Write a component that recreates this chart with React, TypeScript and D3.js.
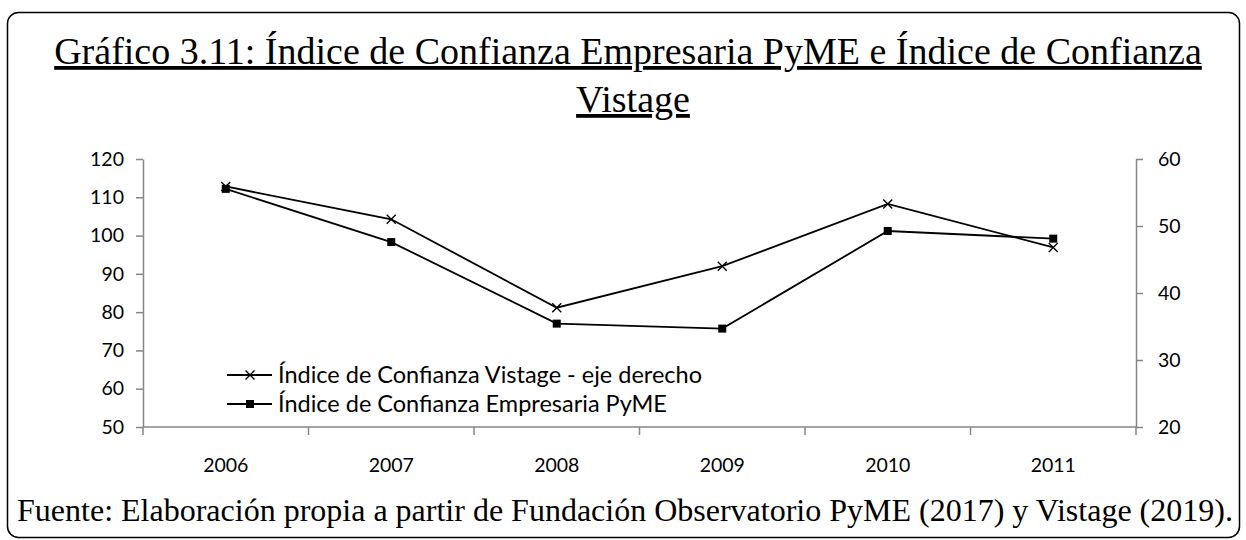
import React, { useEffect, useRef } from 'react';
import * as d3 from 'd3';

const years = ['2006', '2007', '2008', '2009', '2010', '2011'];
const pymeValues = [112.2, 98.3, 77.0, 75.7, 101.2, 99.2];
const vistageValues = [55.9, 51.0, 37.8, 44.0, 53.3, 46.8];
const leftTicks = [50, 60, 70, 80, 90, 100, 110, 120];
const rightTicks = [20, 30, 40, 50, 60];

const titleLine1 = 'Gráfico 3.11: Índice de Confianza Empresaria PyME e Índice de Confianza';
const titleLine2 = 'Vistage';
const sourceText =
  'Fuente: Elaboración propia a partir de Fundación Observatorio PyME (2017) y Vistage (2019).';
const legendVistage = 'Índice de Confianza Vistage - eje derecho';
const legendPyme = 'Índice de Confianza Empresaria PyME';

const W = 1246;
const H = 540;
const axisColor = '#868686';
const sansFont = 'Lato, "Open Sans", sans-serif';
const serifFont = '"Liberation Serif", "DejaVu Serif", serif';

export default function App() {
  const node = useRef<SVGSVGElement | null>(null);

  useEffect(() => {
    const svg = d3.select(node.current);
    svg.selectAll('*').remove();

    const margin = { left: 143, right: W - 1136, top: 159, bottom: H - 427 };
    const width = W - margin.left - margin.right;
    const height = H - margin.top - margin.bottom;

    // frame
    svg
      .append('rect')
      .attr('x', 7.5)
      .attr('y', 12.5)
      .attr('width', 1232)
      .attr('height', 525)
      .attr('rx', 11)
      .attr('fill', 'none')
      .attr('stroke', '#000')
      .attr('stroke-width', 1.5);

    // title
    const title = svg
      .append('g')
      .attr('font-family', serifFont)
      .attr('font-size', 38)
      .attr('fill', '#000')
      .attr('text-anchor', 'middle');
    title
      .append('text')
      .attr('x', 628)
      .attr('y', 64)
      .attr('text-decoration', 'underline')
      .text(titleLine1);
    title
      .append('text')
      .attr('x', 633)
      .attr('y', 112)
      .attr('text-decoration', 'underline')
      .text(titleLine2);

    // source
    svg
      .append('text')
      .attr('x', 625)
      .attr('y', 521)
      .attr('text-anchor', 'middle')
      .attr('font-family', serifFont)
      .attr('font-size', 32)
      .attr('fill', '#000')
      .text(sourceText);

    const g = svg
      .append('g')
      .attr('transform', `translate(${margin.left},${margin.top})`);

    const xScale = d3.scaleBand().domain(years).range([0, width]).padding(0);
    const yLeft = d3.scaleLinear().domain([50, 120]).range([height, 0]);
    const yRight = d3.scaleLinear().domain([20, 60]).range([height, 0]);
    const cx = (d: string) => (xScale(d) as number) + xScale.bandwidth() / 2;

    const leftAxis = g
      .append('g')
      .call(d3.axisLeft(yLeft).tickValues(leftTicks).tickSize(7).tickSizeOuter(0).tickPadding(12));
    const rightAxis = g
      .append('g')
      .attr('transform', `translate(${width},0)`)
      .call(d3.axisRight(yRight).tickValues(rightTicks).tickSize(7).tickSizeOuter(0).tickPadding(15));

    [leftAxis, rightAxis].forEach(a => {
      a.select('.domain').attr('stroke', axisColor).attr('stroke-width', 1.5);
      a.selectAll('.tick line').attr('stroke', axisColor).attr('stroke-width', 1.5);
      a.selectAll('.tick text')
        .attr('font-family', sansFont)
        .attr('font-size', 19.5)
        .attr('fill', '#000');
    });

    // x axis
    const xAxis = g.append('g').attr('transform', `translate(0,${height})`);
    xAxis
      .append('line')
      .attr('x1', 0)
      .attr('x2', width)
      .attr('stroke', axisColor)
      .attr('stroke-width', 1.5);
    const bounds = years.map(d => xScale(d) as number).concat([width]);
    xAxis
      .selectAll('line.tk')
      .data(bounds)
      .enter()
      .append('line')
      .attr('class', 'tk')
      .attr('x1', d => d)
      .attr('x2', d => d)
      .attr('y1', 0)
      .attr('y2', 8)
      .attr('stroke', axisColor)
      .attr('stroke-width', 1.5);
    xAxis
      .selectAll('text')
      .data(years)
      .enter()
      .append('text')
      .attr('x', d => cx(d))
      .attr('y', 45)
      .attr('text-anchor', 'middle')
      .attr('font-family', sansFont)
      .attr('font-size', 19.5)
      .attr('fill', '#000')
      .text(d => d);

    // lines
    const pymeData = years.map((d, i) => ({ year: d, value: pymeValues[i] }));
    const vistageData = years.map((d, i) => ({ year: d, value: vistageValues[i] }));

    const pymeLine = d3
      .line<{ year: string; value: number }>()
      .x(d => cx(d.year))
      .y(d => yLeft(d.value));
    const vistageLine = d3
      .line<{ year: string; value: number }>()
      .x(d => cx(d.year))
      .y(d => yRight(d.value));

    g.append('path')
      .attr('d', vistageLine(vistageData))
      .attr('fill', 'none')
      .attr('stroke', '#000')
      .attr('stroke-width', 1.8);
    g.append('path')
      .attr('d', pymeLine(pymeData))
      .attr('fill', 'none')
      .attr('stroke', '#000')
      .attr('stroke-width', 1.8);

    const crossPath = (x: number, y: number, s: number) =>
      `M${x - s},${y - s}L${x + s},${y + s}M${x - s},${y + s}L${x + s},${y - s}`;

    g.selectAll('path.cross')
      .data(vistageData)
      .enter()
      .append('path')
      .attr('class', 'cross')
      .attr('d', d => crossPath(cx(d.year), yRight(d.value), 4.5))
      .attr('stroke', '#000')
      .attr('stroke-width', 1.4);

    g.selectAll('rect.sq')
      .data(pymeData)
      .enter()
      .append('rect')
      .attr('class', 'sq')
      .attr('x', d => cx(d.year) - 4)
      .attr('y', d => yLeft(d.value) - 4)
      .attr('width', 8)
      .attr('height', 8)
      .attr('fill', '#000');

    // legend
    const legend = svg.append('g').attr('transform', 'translate(227,375)');
    const rows = [
      { label: legendVistage, marker: 'cross' },
      { label: legendPyme, marker: 'square' }
    ];
    rows.forEach((r, i) => {
      const row = legend.append('g').attr('transform', `translate(0,${i * 29})`);
      row
        .append('line')
        .attr('x1', 0)
        .attr('x2', 45)
        .attr('stroke', '#000')
        .attr('stroke-width', 1.8);
      if (r.marker === 'cross') {
        row
          .append('path')
          .attr('d', crossPath(23, 0, 4.5))
          .attr('stroke', '#000')
          .attr('stroke-width', 1.4);
      } else {
        row
          .append('rect')
          .attr('x', 19)
          .attr('y', -4)
          .attr('width', 8)
          .attr('height', 8)
          .attr('fill', '#000');
      }
      row
        .append('text')
        .attr('x', 51)
        .attr('y', 0)
        .attr('dy', '0.35em')
        .attr('font-family', sansFont)
        .attr('font-size', 23.5)
        .attr('fill', '#000')
        .text(r.label);
    });
  }, []);

  return (
    <svg
      ref={node}
      width={W}
      height={H}
      style={{ position: 'absolute', left: 0, top: 0, background: '#fff' }}
    />
  );
}
